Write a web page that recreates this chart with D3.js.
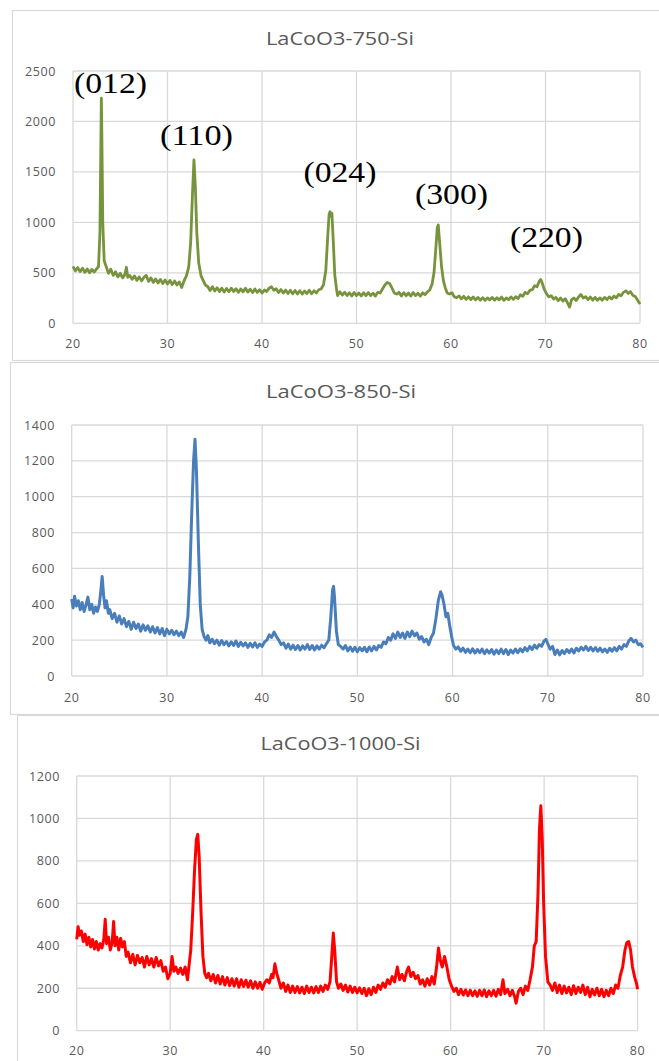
<!DOCTYPE html>
<html>
<head>
<meta charset="utf-8">
<script src="https://cdn.jsdelivr.net/npm/d3@7"></script>
<style>
  body { margin: 0; background: #fff; }
  svg text { font-family: "Open Sans", "Noto Sans", sans-serif; fill: #595959; }
  .hkl { font-family: "Liberation Serif", "Times New Roman", serif; fill: #000; }
</style>
</head>
<body>
<svg id="chart" width="659" height="1061"></svg>
<script>
// 2-theta axis ticks (shared)
let xTicks = [20, 30, 40, 50, 60, 70, 80];

// LaCoO3-750-Si  [2theta, intensity]
let xrd750 = [[20,565],[20.25,520],[20.5,552],[20.75,512],[21,545],[21.25,505],[21.5,538],[21.75,500],[22,534],[22.25,508],[22.5,540],[22.7,560],[22.85,900],[22.95,1800],[23,2230],[23.05,1900],[23.15,1000],[23.3,620],[23.5,565],[23.75,495],[24,535],[24.25,475],[24.5,510],[24.75,460],[25,495],[25.25,450],[25.5,485],[25.65,555],[25.8,455],[26,475],[26.25,435],[26.5,470],[26.75,425],[27,460],[27.25,420],[27.5,455],[27.75,475],[28,415],[28.25,450],[28.5,405],[28.75,440],[29,400],[29.25,435],[29.5,395],[29.75,430],[30,390],[30.25,425],[30.5,385],[30.75,420],[31,380],[31.25,410],[31.5,355],[31.75,420],[32,470],[32.25,560],[32.45,800],[32.65,1300],[32.8,1620],[32.95,1350],[33.1,900],[33.3,600],[33.55,470],[33.8,420],[34,380],[34.25,365],[34.5,325],[34.75,362],[35,320],[35.25,352],[35.5,315],[35.75,348],[36,310],[36.25,345],[36.5,313],[36.75,348],[37,315],[37.25,342],[37.5,307],[37.75,340],[38,313],[38.25,348],[38.5,310],[38.75,338],[39,305],[39.25,340],[39.5,307],[39.75,333],[40,300],[40.25,330],[40.5,315],[40.75,348],[41,362],[41.25,328],[41.5,342],[41.75,305],[42,335],[42.25,300],[42.5,330],[42.75,295],[43,328],[43.25,293],[43.5,325],[43.75,291],[44,323],[44.25,290],[44.5,320],[44.75,295],[45,328],[45.25,293],[45.5,322],[45.75,300],[46,332],[46.25,340],[46.5,380],[46.75,520],[46.95,850],[47.1,1080],[47.2,1105],[47.3,1060],[47.4,1090],[47.55,800],[47.7,480],[47.9,330],[48,275],[48.25,312],[48.5,280],[48.75,308],[49,275],[49.25,303],[49.5,270],[49.75,305],[50,275],[50.25,300],[50.5,271],[50.75,303],[51,273],[51.25,305],[51.5,275],[51.75,299],[52,270],[52.25,307],[52.5,300],[52.75,340],[53,380],[53.25,405],[53.5,395],[53.75,350],[54,300],[54.25,290],[54.5,307],[54.75,270],[55,303],[55.25,273],[55.5,300],[55.75,270],[56,305],[56.25,275],[56.5,298],[56.75,270],[57,302],[57.25,283],[57.5,312],[57.75,330],[58,390],[58.2,500],[58.4,750],[58.55,950],[58.65,975],[58.8,800],[59,560],[59.2,420],[59.4,350],[59.6,300],[59.85,290],[60.1,302],[60.35,262],[60.6,255],[60.85,272],[61.1,242],[61.35,267],[61.6,237],[61.85,262],[62.1,235],[62.35,260],[62.6,232],[62.85,257],[63.1,229],[63.35,254],[63.6,227],[63.85,252],[64.1,232],[64.35,257],[64.6,229],[64.85,254],[65.1,232],[65.35,260],[65.6,227],[65.85,252],[66.1,235],[66.35,262],[66.6,237],[66.85,264],[67.1,245],[67.35,282],[67.6,268],[67.85,307],[68.1,292],[68.35,327],[68.6,333],[68.85,372],[69.1,362],[69.35,420],[69.5,435],[69.65,400],[69.85,340],[70.1,295],[70.35,262],[70.6,274],[70.85,240],[71.1,257],[71.35,225],[71.6,250],[71.85,220],[72.1,244],[72.35,198],[72.55,160],[72.75,232],[73,250],[73.25,225],[73.5,260],[73.75,285],[74,250],[74.25,264],[74.5,235],[74.75,260],[75,229],[75.25,257],[75.5,227],[75.75,252],[76,229],[76.25,257],[76.5,235],[76.75,262],[77,240],[77.25,270],[77.5,253],[77.75,287],[78,273],[78.25,307],[78.5,322],[78.75,296],[79,314],[79.25,276],[79.5,265],[79.75,228],[80,190]];

// LaCoO3-850-Si
let xrd850 = [[20,430],[20.15,380],[20.3,445],[20.5,390],[20.7,420],[20.9,370],[21.1,410],[21.3,360],[21.5,395],[21.7,440],[21.9,370],[22.1,400],[22.3,350],[22.5,385],[22.7,360],[22.9,400],[23.05,470],[23.2,555],[23.35,450],[23.5,380],[23.65,420],[23.85,350],[24,370],[24.25,320],[24.5,350],[24.75,300],[25,335],[25.25,290],[25.5,320],[25.75,275],[26,305],[26.25,260],[26.5,300],[26.75,265],[27,290],[27.25,250],[27.5,285],[27.75,255],[28,280],[28.25,245],[28.5,275],[28.75,240],[29,270],[29.25,235],[29.5,265],[29.75,225],[30,260],[30.25,235],[30.5,255],[30.75,230],[31,250],[31.25,225],[31.5,245],[31.75,215],[32,260],[32.2,330],[32.4,550],[32.6,900],[32.8,1200],[32.95,1320],[33.1,1150],[33.3,750],[33.5,400],[33.7,260],[33.9,220],[34.1,200],[34.3,225],[34.5,185],[34.75,205],[35,180],[35.25,200],[35.5,172],[35.75,198],[36,175],[36.25,192],[36.5,168],[36.75,190],[37,170],[37.25,195],[37.5,165],[37.75,188],[38,168],[38.25,185],[38.5,160],[38.75,182],[39,162],[39.25,185],[39.5,160],[39.75,178],[40,165],[40.25,190],[40.5,200],[40.75,230],[41,215],[41.25,245],[41.5,220],[41.75,200],[42,175],[42.25,185],[42.5,155],[42.75,178],[43,150],[43.25,172],[43.5,148],[43.75,170],[44,145],[44.25,168],[44.5,150],[44.75,175],[45,148],[45.25,170],[45.5,145],[45.75,168],[46,150],[46.25,172],[46.5,158],[46.75,180],[47,200],[47.2,320],[47.4,480],[47.5,500],[47.6,440],[47.8,250],[48,175],[48.25,165],[48.5,150],[48.75,170],[49,140],[49.25,162],[49.5,138],[49.75,160],[50,135],[50.25,158],[50.5,140],[50.75,160],[51,135],[51.25,162],[51.5,140],[51.75,165],[52,145],[52.25,170],[52.5,160],[52.75,190],[53,180],[53.25,215],[53.5,200],[53.75,235],[54,210],[54.25,245],[54.5,215],[54.75,240],[55,210],[55.25,245],[55.5,220],[55.75,250],[56,225],[56.25,240],[56.5,205],[56.75,220],[57,190],[57.25,205],[57.5,175],[57.75,215],[58,240],[58.25,320],[58.5,420],[58.75,470],[58.9,450],[59.1,400],[59.3,330],[59.5,350],[59.7,280],[59.9,220],[60.1,170],[60.35,150],[60.6,162],[60.85,138],[61.1,155],[61.35,132],[61.6,150],[61.85,130],[62.1,152],[62.35,128],[62.6,148],[62.85,130],[63.1,150],[63.35,125],[63.6,146],[63.85,128],[64.1,148],[64.35,122],[64.6,145],[64.85,125],[65.1,150],[65.35,125],[65.6,148],[65.85,120],[66.1,145],[66.35,128],[66.6,150],[66.85,130],[67.1,152],[67.35,135],[67.6,158],[67.85,140],[68.1,165],[68.35,148],[68.6,172],[68.85,155],[69.1,175],[69.35,165],[69.6,195],[69.8,205],[70,180],[70.25,150],[70.5,165],[70.75,120],[71,145],[71.25,118],[71.5,142],[71.75,125],[72,148],[72.25,130],[72.5,150],[72.75,128],[73,155],[73.25,140],[73.5,160],[73.75,145],[74,165],[74.25,142],[74.5,160],[74.75,140],[75,158],[75.25,138],[75.5,155],[75.75,135],[76,150],[76.25,132],[76.5,155],[76.75,138],[77,158],[77.25,140],[77.5,165],[77.75,150],[78,175],[78.25,165],[78.5,195],[78.75,210],[79,190],[79.25,200],[79.5,175],[79.75,180],[80,160]];

// LaCoO3-1000-Si
let xrd1000 = [[20,430],[20.15,490],[20.3,450],[20.5,470],[20.7,420],[20.9,455],[21.1,405],[21.3,440],[21.5,395],[21.7,430],[21.9,385],[22.1,420],[22.3,380],[22.5,410],[22.7,390],[22.9,430],[23.05,525],[23.2,410],[23.4,440],[23.6,380],[23.8,420],[23.95,515],[24.1,400],[24.3,440],[24.5,380],[24.7,435],[24.9,395],[25.1,420],[25.3,350],[25.5,370],[25.75,320],[26,360],[26.25,310],[26.5,355],[26.75,320],[27,345],[27.25,300],[27.5,350],[27.75,310],[28,340],[28.25,300],[28.5,345],[28.75,305],[29,330],[29.25,280],[29.5,300],[29.75,245],[30,270],[30.2,350],[30.4,280],[30.6,300],[30.85,270],[31.1,295],[31.35,265],[31.6,300],[31.85,240],[32,300],[32.2,380],[32.4,550],[32.6,750],[32.8,900],[32.95,925],[33.1,820],[33.3,560],[33.5,350],[33.7,270],[33.9,250],[34.1,270],[34.35,235],[34.6,265],[34.85,225],[35.1,260],[35.35,220],[35.6,255],[35.85,215],[36.1,250],[36.35,212],[36.6,245],[36.85,210],[37.1,245],[37.35,205],[37.6,240],[37.85,208],[38.1,238],[38.35,205],[38.6,235],[38.85,200],[39.1,230],[39.35,200],[39.6,228],[39.85,195],[40.1,225],[40.35,240],[40.6,225],[40.85,265],[41,250],[41.2,315],[41.4,270],[41.6,240],[41.85,200],[42.1,225],[42.35,185],[42.6,215],[42.85,180],[43.1,210],[43.35,180],[43.6,208],[43.85,178],[44.1,205],[44.35,175],[44.6,210],[44.85,180],[45.1,205],[45.35,178],[45.6,208],[45.85,180],[46.1,210],[46.35,185],[46.6,215],[46.85,195],[47.1,230],[47.3,360],[47.45,460],[47.6,380],[47.8,230],[48,200],[48.25,220],[48.5,190],[48.75,215],[49,182],[49.25,210],[49.5,180],[49.75,205],[50,178],[50.25,202],[50.5,175],[50.75,200],[51,165],[51.25,198],[51.5,170],[51.75,205],[52,180],[52.25,215],[52.5,195],[52.75,225],[53,205],[53.25,240],[53.5,220],[53.75,255],[54,230],[54.3,300],[54.55,240],[54.8,265],[55.05,235],[55.3,280],[55.5,300],[55.75,255],[56,275],[56.25,245],[56.5,260],[56.75,220],[57,240],[57.25,210],[57.5,245],[57.75,215],[58,255],[58.25,220],[58.5,300],[58.7,390],[58.9,330],[59.1,300],[59.35,350],[59.6,300],[59.85,240],[60.1,210],[60.35,185],[60.6,200],[60.85,170],[61.1,195],[61.35,168],[61.6,192],[61.85,165],[62.1,190],[62.35,165],[62.6,188],[62.85,162],[63.1,190],[63.35,165],[63.6,192],[63.85,160],[64.1,188],[64.35,165],[64.6,190],[64.85,162],[65.1,195],[65.35,170],[65.6,240],[65.8,175],[66.1,195],[66.35,165],[66.6,190],[66.85,160],[67,130],[67.25,185],[67.5,200],[67.75,170],[68,210],[68.25,190],[68.5,240],[68.75,300],[68.95,400],[69.15,420],[69.35,650],[69.5,950],[69.65,1060],[69.8,900],[69.95,600],[70.15,350],[70.4,230],[70.65,215],[70.9,190],[71.15,225],[71.4,180],[71.65,215],[71.9,175],[72.15,210],[72.4,178],[72.65,205],[72.9,170],[73.15,212],[73.4,175],[73.65,205],[73.9,180],[74.15,215],[74.4,170],[74.65,205],[74.9,160],[75.15,195],[75.4,168],[75.65,200],[75.9,165],[76.15,195],[76.4,160],[76.65,190],[76.9,165],[77.15,200],[77.4,175],[77.65,215],[77.9,200],[78.15,260],[78.4,300],[78.65,380],[78.85,415],[79.05,420],[79.25,380],[79.45,300],[79.7,250],[79.9,220],[80,195]];

// hkl labels on the 750 pattern, anchored in data units (label centre 2theta, baseline intensity)
let hklText = ["(012)", "(110)", "(024)", "(300)", "(220)"];
let hklAngle = [23.97, 33.07, 48.25, 60.05, 70.1];
let hklLevel = [2282, 1767, 1400, 1182, 756];

let svg = d3.select("#chart");

// panel frames (pasted chart screenshots)
let frames = [
    { x: 12.5, y: 10.5, w: 660, h: 350 },
    { x: 10.5, y: 362.5, w: 660, h: 352 },
    { x: 17.5, y: 715.5, w: 660, h: 360 }
];
frames.forEach(f => {
    svg.append("rect")
        .attr("x", f.x).attr("y", f.y)
        .attr("width", f.w).attr("height", f.h)
        .attr("fill", "none")
        .attr("stroke", "#d9d9d9")
        .attr("stroke-width", 1.2);
});

function drawPanel(p) {
    let x = d3.scaleLinear().domain([20, 80]).range([p.left, p.right]);
    let y = d3.scaleLinear().domain([0, p.yMax]).range([p.bottom, p.top]);
    let yTicks = d3.range(0, p.yMax + 1, p.yStep);

    let g = svg.append("g");

    // gridlines
    g.selectAll(".hg").data(yTicks).enter().append("line")
        .attr("x1", p.left).attr("x2", p.right)
        .attr("y1", d => y(d)).attr("y2", d => y(d))
        .attr("stroke", "#d9d9d9").attr("stroke-width", 1.3);
    g.selectAll(".vg").data(xTicks).enter().append("line")
        .attr("x1", d => x(d)).attr("x2", d => x(d))
        .attr("y1", p.top).attr("y2", p.bottom)
        .attr("stroke", "#d9d9d9").attr("stroke-width", 1.3);

    // tick labels
    g.selectAll(".yl").data(yTicks).enter().append("text")
        .attr("x", p.labelRight)
        .attr("y", d => y(d))
        .attr("dy", "0.36em")
        .attr("text-anchor", "end")
        .style("font-size", "12.5px")
        .style("letter-spacing", "0.6px")
        .text(d => d);
    g.selectAll(".xl").data(xTicks).enter().append("text")
        .attr("x", d => x(d))
        .attr("y", p.xLabelY)
        .attr("text-anchor", "middle")
        .style("font-size", "12.5px")
        .style("letter-spacing", "0.6px")
        .text(d => d);

    // title
    g.append("text")
        .attr("x", p.titleX)
        .attr("y", p.titleY)
        .attr("text-anchor", "middle")
        .attr("textLength", p.titleW)
        .attr("lengthAdjust", "spacingAndGlyphs")
        .style("font-size", "17.5px")
        .text(p.title);

    // pattern
    let line = d3.line().x(d => x(d[0])).y(d => y(d[1]));
    g.append("path")
        .datum(p.data)
        .attr("d", line)
        .attr("fill", "none")
        .attr("stroke", p.color)
        .attr("stroke-width", p.lineW)
        .attr("stroke-linejoin", "round");

    return { x, y, g };
}

let p1 = drawPanel({ title: "LaCoO3-750-Si", data: xrd750, color: "#77933c", lineW: 2.8,
    left: 73, right: 640, top: 71, bottom: 323.3, yMax: 2500, yStep: 500,
    titleX: 340, titleY: 45, titleW: 148, xLabelY: 348, labelRight: 56 });

drawPanel({ title: "LaCoO3-850-Si", data: xrd850, color: "#4a7ebb", lineW: 3,
    left: 71.7, right: 643, top: 425, bottom: 676, yMax: 1400, yStep: 200,
    titleX: 341, titleY: 398, titleW: 150, xLabelY: 702, labelRight: 55 });

drawPanel({ title: "LaCoO3-1000-Si", data: xrd1000, color: "#ff0000", lineW: 3,
    left: 76.7, right: 637.6, top: 776, bottom: 1030.7, yMax: 1200, yStep: 200,
    titleX: 340.5, titleY: 750, titleW: 160, xLabelY: 1055, labelRight: 60 });

// Miller indices on the top pattern
p1.g.selectAll(".hkl").data(hklText).enter().append("text")
    .attr("class", "hkl")
    .attr("x", (d, i) => p1.x(hklAngle[i]))
    .attr("y", (d, i) => p1.y(hklLevel[i]))
    .attr("text-anchor", "middle")
    .attr("textLength", 73)
    .attr("lengthAdjust", "spacingAndGlyphs")
    .style("font-size", "29px")
    .text(d => d);
</script>
</body>
</html>
